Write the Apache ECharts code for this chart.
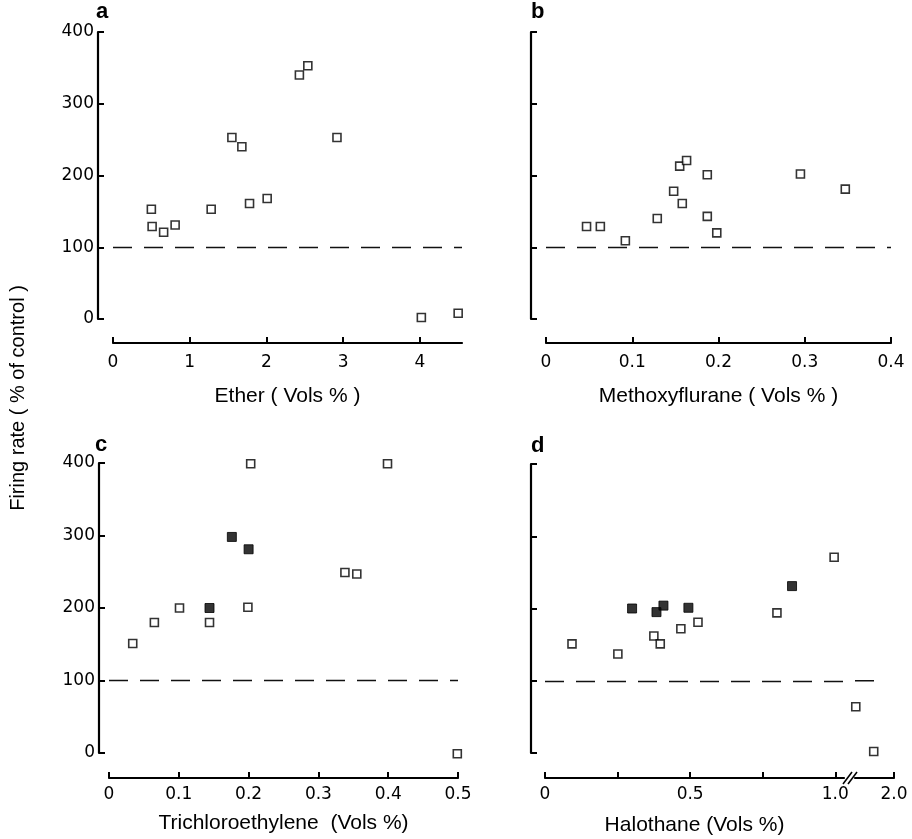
<!DOCTYPE html>
<html>
<head>
<meta charset="utf-8">
<script src="https://cdn.jsdelivr.net/npm/echarts@6/dist/echarts.min.js"></script>
<style>
  html, body { margin: 0; padding: 0; background: #fff; }
</style>
</head>
<body>
<div id="chart" style="width:912px;height:839px;"></div>
<script>
// firing rate (% of control) vs. anaesthetic concentration (Vols %)
const etherOpen = [
  [0.50, 153], [0.51, 129], [0.66, 121], [0.81, 131], [1.28, 153],
  [1.55, 253], [1.68, 240], [1.78, 161], [2.01, 168], [2.43, 340],
  [2.54, 353], [2.92, 253], [4.02, 2], [4.50, 8]
];
const methoxyOpen = [
  [0.047, 129], [0.063, 129], [0.092, 109], [0.129, 140], [0.148, 178],
  [0.155, 213], [0.163, 221], [0.158, 161], [0.187, 201], [0.187, 143],
  [0.198, 120], [0.295, 202], [0.347, 181]
];
const trichloroOpen = [
  [0.034, 151], [0.065, 180], [0.101, 200], [0.144, 180], [0.199, 201],
  [0.203, 399], [0.338, 249], [0.355, 247], [0.399, 399], [0.499, -1]
];
const trichloroFilled = [[0.144, 200], [0.176, 298], [0.200, 281]];
const halothaneOpen = [
  [0.093, 151], [0.251, 137], [0.375, 162], [0.397, 151], [0.468, 172],
  [0.527, 181], [0.799, 194], [0.996, 271]
];
const halothaneFilled = [[0.300, 200], [0.384, 195], [0.408, 204], [0.494, 201], [0.851, 231]];
// points beyond the axis break (1.0 // 2.0)
const halothaneHighOpen = [[1.51, 64], [1.74, 2]];

const refLevel = 100;
const yTicks = [0, 100, 200, 300, 400];
const etherTicks = [0, 1, 2, 3, 4];
const methoxyTicks = [0, 0.1, 0.2, 0.3, 0.4];
const trichloroTicks = [0, 0.1, 0.2, 0.3, 0.4, 0.5];
const halothaneTicks = [0, 0.25, 0.5, 0.75, 1.0];
const halothaneLabels = [0, 0.5, 1.0];
const halothaneHighTicks = [2.0];

let chart = echarts.init(document.getElementById('chart'), null, { renderer: 'canvas' });

const ink = '#000';
const tickFont = { fontFamily: 'DejaVu Sans', fontSize: 17, color: ink };
const nameFont = { fontFamily: 'Liberation Sans', fontSize: 21, color: ink };

function xAx(grid, min, max, ticks, labels, name, gap, offset, margin, fixed) {
  return {
    type: 'value', gridIndex: grid, min: min, max: max, offset: offset,
    splitLine: { show: false },
    axisLine: { show: true, onZero: false, lineStyle: { color: ink, width: 2.2 } },
    axisTick: { show: true, inside: true, length: 6, customValues: ticks, lineStyle: { color: ink, width: 2 } },
    axisLabel: Object.assign({ show: true, margin: margin, customValues: labels,
      formatter: function (v) { return v === 0 ? '0' : (fixed ? v.toFixed(1) : String(v)); } }, tickFont),
    name: name, nameLocation: 'middle', nameGap: gap, nameTextStyle: nameFont
  };
}

function yAx(grid, offset, labels, show) {
  return {
    type: 'value', gridIndex: grid, min: 0, max: 400, interval: 100, offset: offset, show: show,
    splitLine: { show: false },
    axisLine: { show: true, onZero: false, lineStyle: { color: ink, width: 2.2 } },
    axisTick: { show: true, inside: true, length: 6, lineStyle: { color: ink, width: 2 } },
    axisLabel: Object.assign({ show: labels, margin: 4, customValues: yTicks }, tickFont)
  };
}

const openStyle = { color: '#fff', borderColor: ink, borderWidth: 1.6 };
const filledStyle = { color: ink, borderColor: ink, borderWidth: 1 };
const dash = { color: '#111', width: 1.3, type: [19, 12] };

function refMark() {
  return { silent: true, symbol: 'none', label: { show: false }, lineStyle: dash,
    data: [{ yAxis: refLevel }] };
}

function pts(idx, data, style, size, mark) {
  let s = {
    type: 'scatter', xAxisIndex: idx, yAxisIndex: idx, data: data,
    symbol: 'rect', symbolSize: size, itemStyle: style, z: 5, clip: false
  };
  if (mark) s.markLine = refMark();
  return s;
}

let option = {
  animation: false,
  backgroundColor: '#fff',
  title: [
    { text: 'a', left: 96, top: 1 },
    { text: 'b', left: 531, top: 1 },
    { text: 'c', left: 95, top: 434 },
    { text: 'd', left: 531, top: 435 }
  ].map(function (t) {
    t.padding = 0;
    t.textStyle = { fontFamily: 'Liberation Sans', fontSize: 22, fontWeight: 'bold', color: ink };
    return t;
  }),
  grid: [
    { left: 113, top: 32, width: 349, height: 287 },
    { left: 546, top: 32, width: 345, height: 287 },
    { left: 109, top: 463, width: 349, height: 290 },
    { left: 545, top: 464, width: 299, height: 289 },
    { left: 855, top: 464, width: 39, height: 289 }
  ],
  xAxis: [
    xAx(0, 0, 4.55, etherTicks, etherTicks, 'Ether ( Vols % )', 43, 24, 11, false),
    xAx(1, 0, 0.4, methoxyTicks, methoxyTicks, 'Methoxyflurane ( Vols % )', 43, 24, 11, true),
    xAx(2, 0, 0.5, trichloroTicks, trichloroTicks, 'Trichloroethylene  (Vols %)', 35, 25, 8, true),
    xAx(3, 0, 1.03, halothaneTicks, halothaneLabels, 'Halothane (Vols %)', 37, 25, 8, true),
    xAx(4, 1.5, 2.0, halothaneHighTicks, halothaneHighTicks, '', 0, 25, 8, true)
  ],
  yAxis: [
    yAx(0, 15, true, true),
    yAx(1, 15, false, true),
    yAx(2, 10, true, true),
    yAx(3, 14, false, true),
    yAx(4, 0, false, false)
  ],
  series: [
    pts(0, etherOpen, openStyle, 8, true),
    pts(1, methoxyOpen, openStyle, 8, true),
    pts(2, trichloroOpen, openStyle, 8, true),
    pts(2, trichloroFilled, filledStyle, 9, false),
    pts(3, halothaneOpen, openStyle, 8, true),
    pts(3, halothaneFilled, filledStyle, 9, false),
    pts(4, halothaneHighOpen, openStyle, 8, false),
    {
      // reference line continues past the axis break in panel d
      type: 'line', xAxisIndex: 4, yAxisIndex: 4, silent: true,
      symbol: 'none', lineStyle: dash, z: 1,
      data: [[1.5, refLevel], [1.86, refLevel]]
    }
  ],
  graphic: [
    {
      type: 'text', x: 18, y: 398, rotation: Math.PI / 2,
      style: {
        text: 'Firing rate ( % of control )', fill: ink,
        font: '20px "Liberation Sans"', align: 'center', verticalAlign: 'middle'
      }
    },
    // axis break marks
    { type: 'line', shape: { x1: 843, y1: 784, x2: 852, y2: 772 }, style: { stroke: ink, lineWidth: 1.6 } },
    { type: 'line', shape: { x1: 848, y1: 784, x2: 857, y2: 772 }, style: { stroke: ink, lineWidth: 1.6 } }
  ]
};

chart.setOption(option);
window.addEventListener('resize', function () {
  chart.resize();
});
</script>
</body>
</html>
